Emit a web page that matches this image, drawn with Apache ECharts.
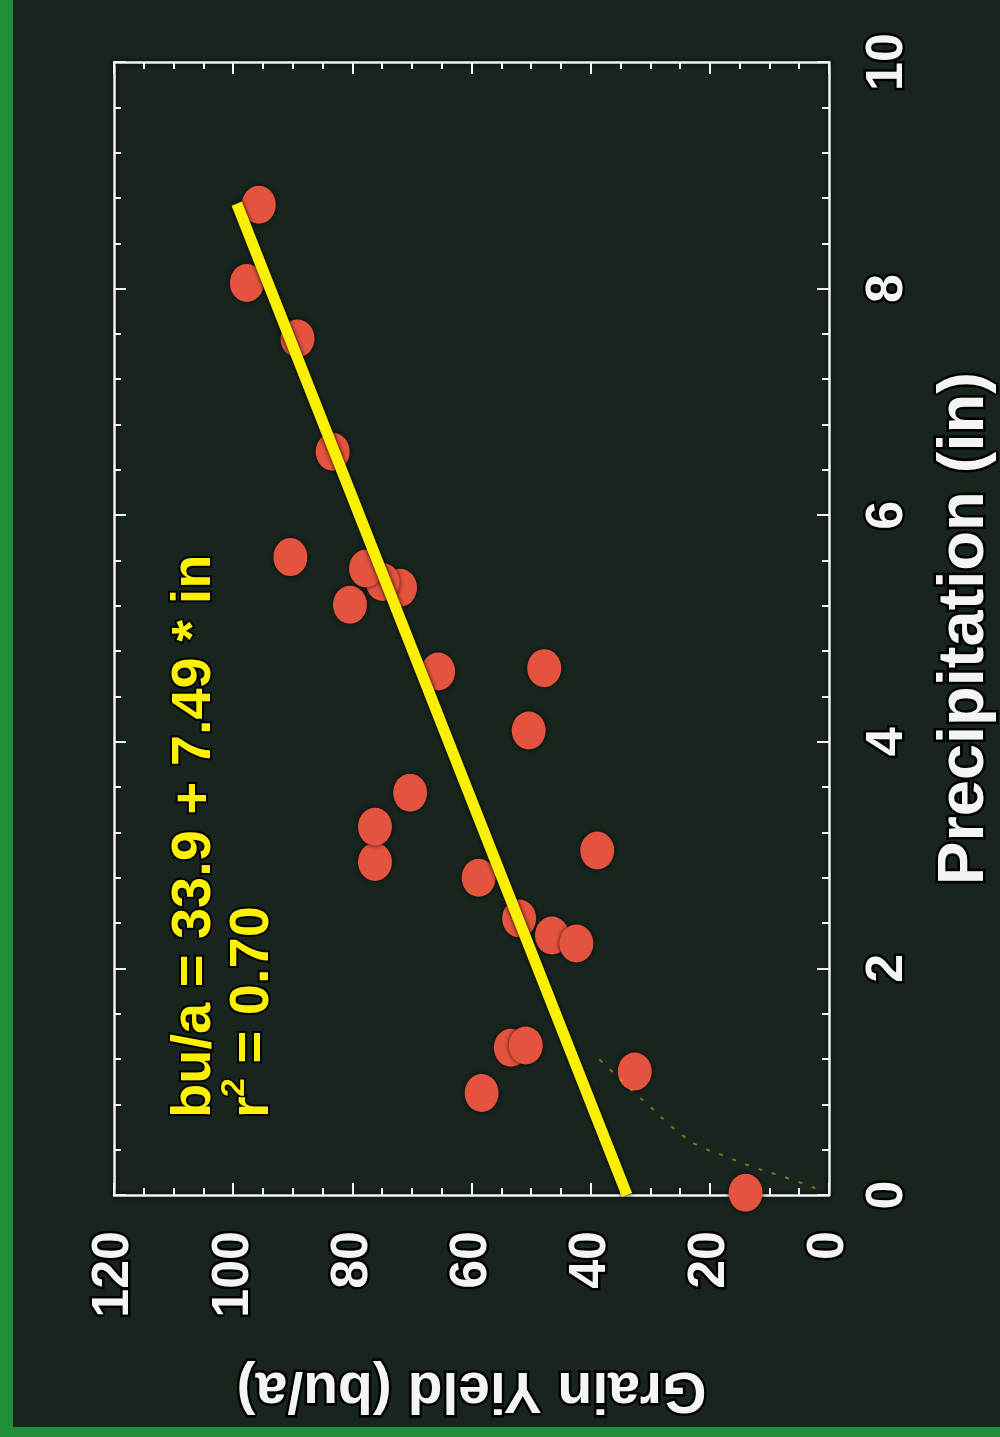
<!DOCTYPE html>
<html>
<head>
<meta charset="utf-8">
<script src="https://cdn.jsdelivr.net/npm/echarts@6/dist/echarts.min.js"></script>
<style>
html,body{margin:0;padding:0;background:#17251d;}
#chart{width:1000px;height:1437px;}
</style>
</head>
<body>
<div id="chart"></div>
<script>
// Data: [grain yield (bu/a), precipitation (in)]
var yieldValues = [14.0, 58.3, 32.6, 53.4, 50.9, 52.0, 46.5, 42.4, 58.8, 38.9, 76.2, 76.2, 70.3, 50.4, 47.8, 65.6, 80.4, 72.0, 74.9, 77.7, 90.4, 83.3, 89.2, 97.7, 95.7];
var precipValues = [0.02, 0.90, 1.09, 1.30, 1.32, 2.44, 2.29, 2.22, 2.80, 3.04, 2.94, 3.25, 3.55, 4.10, 4.65, 4.62, 5.21, 5.36, 5.41, 5.53, 5.63, 6.56, 7.56, 8.05, 8.74];
// Regression line endpoints (bu/a = 33.9 + 7.49 * in)
var fitYield = [33.9, 99.4];
var fitPrecip = [0.0, 8.75];
// Faint dotted curve near origin
var faintYield = [2.3, 7.0, 12.9, 17.8, 22.1, 24.7, 27.2, 30.0, 32.6, 37.2, 39.6];
var faintPrecip = [0.06, 0.15, 0.25, 0.35, 0.44, 0.53, 0.64, 0.78, 0.90, 1.13, 1.25];
var yieldTicks = {min: 0, max: 120, interval: 20};
var precipTicks = {min: 0, max: 10, interval: 2};
var equationText = 'bu/a = 33.9 + 7.49 * in';
var r2Text = ' = 0.70';

function pairs(a, b) { return a.map(function (v, i) { return [v, b[i]]; }); }

var white = '#f4f4f4';
var labelFont = 'Liberation Sans, Arial, Helvetica, sans-serif';
var axisLineStyle = {color: white, width: 2.5, shadowColor: '#000', shadowBlur: 4};

function xAx(pos, withLabels) {
  return {
    type: 'value', position: pos, inverse: true,
    min: yieldTicks.min, max: yieldTicks.max, interval: yieldTicks.interval,
    axisLine: {show: true, onZero: false, lineStyle: axisLineStyle},
    axisTick: {show: true, inside: true, length: 12, lineStyle: {color: white, width: 2}},
    minorTick: {show: true, splitNumber: 4, length: 7, lineStyle: {color: white, width: 2}},
    splitLine: {show: false}, minorSplitLine: {show: false},
    axisLabel: withLabels ? {
      show: true, rotate: 90, margin: 36, align: 'right', verticalAlign: 'middle',
      color: white, fontSize: 52, fontWeight: 'bold', fontFamily: labelFont,
      textBorderColor: '#000', textBorderWidth: 5
    } : {show: false},
    name: withLabels ? 'Grain Yield (bu/a)' : '',
    nameLocation: 'middle', nameRotate: 180, nameGap: 165,
    nameTextStyle: {color: white, fontSize: 57, fontWeight: 'bold', fontFamily: labelFont,
      textBorderColor: '#000', textBorderWidth: 5}
  };
}
function yAx(pos, withLabels) {
  return {
    type: 'value', position: pos,
    min: precipTicks.min, max: precipTicks.max, interval: precipTicks.interval,
    axisLine: {show: true, onZero: false, lineStyle: axisLineStyle},
    axisTick: {show: true, inside: true, length: 12, lineStyle: {color: white, width: 2}},
    minorTick: {show: true, splitNumber: 5, length: 7, lineStyle: {color: white, width: 2}},
    splitLine: {show: false}, minorSplitLine: {show: false},
    axisLabel: withLabels ? {
      show: true, rotate: 90, margin: 33, align: 'center', verticalAlign: 'top',
      color: white, fontSize: 52, fontWeight: 'bold', fontFamily: labelFont,
      textBorderColor: '#000', textBorderWidth: 5
    } : {show: false},
    name: withLabels ? 'Precipitation (in)' : '',
    nameLocation: 'middle', nameRotate: 90, nameGap: 104,
    nameTextStyle: {color: white, fontSize: 65, fontWeight: 'bold', fontFamily: labelFont,
      textBorderColor: '#000', textBorderWidth: 5}
  };
}

var chart = echarts.init(document.getElementById('chart'), null, {renderer: 'canvas'});
var yellow = '#fbf000';
var eqStyle = {fill: yellow, font: 'bold 56px ' + labelFont, stroke: '#000', lineWidth: 4, verticalAlign: 'middle', align: 'left'};

chart.setOption({
  backgroundColor: '#17251d',
  animation: false,
  grid: {left: 114, right: 171, top: 62, bottom: 242, containLabel: false, outerBoundsMode: 'none'},
  xAxis: [xAx('bottom', true), xAx('top', false)],
  yAxis: [yAx('right', true), yAx('left', false)],
  graphic: [
    {type: 'rect', left: 0, top: 0, shape: {width: 13, height: 1437}, style: {fill: '#1f8f39'}, silent: true, z: -1},
    {type: 'rect', left: 0, top: 1427, shape: {width: 1000, height: 10}, style: {fill: '#1f8f39'}, silent: true, z: -1},
    {
      type: 'group', x: 195, y: 1118, rotation: Math.PI / 2, z: 50,
      children: [
        {type: 'text', x: 0, y: 0, style: Object.assign({text: equationText}, eqStyle)},
        {type: 'text', x: 0, y: 58, style: Object.assign({text: 'r'}, eqStyle)},
        {type: 'text', x: 21, y: 40, style: Object.assign({}, eqStyle, {text: '2', font: 'bold 34px ' + labelFont, lineWidth: 3})},
        {type: 'text', x: 39, y: 58, style: Object.assign({text: r2Text}, eqStyle)}
      ]
    }
  ],
  series: [
    {
      type: 'line', xAxisIndex: 0, yAxisIndex: 0, data: pairs(faintYield, faintPrecip),
      smooth: true, symbol: 'none', silent: true,
      lineStyle: {color: 'rgba(175,190,40,0.55)', width: 2, type: [4, 10]}
    },
    {
      type: 'line', xAxisIndex: 0, yAxisIndex: 0, data: pairs(fitYield, fitPrecip),
      symbol: 'none', silent: true,
      lineStyle: {color: yellow, width: 11, shadowColor: '#000', shadowBlur: 4, cap: 'butt'}
    },
    {
      type: 'scatter', xAxisIndex: 0, yAxisIndex: 0, data: pairs(yieldValues, precipValues),
      symbol: 'circle', symbolSize: [34, 38],
      itemStyle: {color: '#e4533e', opacity: 1, shadowColor: 'rgba(0,0,0,0.8)', shadowBlur: 4}
    }
  ]
});
</script>
</body>
</html>
